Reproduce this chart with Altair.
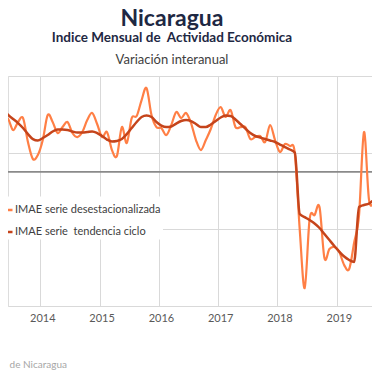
import altair as alt
import pandas as pd

# Monthly series, April 2013 .. October 2019 (year-on-year % variation)
start_month = "2013-04"
months = [str(p) for p in pd.period_range(start_month, periods=79, freq="M")]

desestacionalizada = [
    9.58, 5.72, 5.51, 4.36, 5.20, 5.61, 3.11, 1.34, 1.75,          # 2013 Apr-Dec
    3.32, 5.93, 5.20, 4.05, 4.67, 5.20, 4.05, 3.63, 4.15, 5.41, 6.14, 4.99,   # 2014
    3.63, 4.15, 2.27, 1.65, 4.67, 3.01, 5.61, 5.82, 7.49, 8.74, 5.93, 4.67,   # 2015
    4.57, 3.84, 4.88, 6.24, 5.61, 6.14, 5.09, 3.32, 2.27, 3.32, 4.47, 5.93,   # 2016
    6.76, 5.72, 6.45, 4.67, 4.67, 4.67, 3.42, 3.63, 3.74, 3.11, 4.88, 3.32,   # 2017
    2.07, 2.90, 2.69, 1.96, -6.03, -12.14, -4.93, -4.51, -3.67, -9.00, -8.06, -7.85,  # 2018
    -8.37, -9.73, -10.14, -7.43, -4.51, 4.15, -2.84, -3.26, -2.74, 0.71,      # 2019
]

tendencia = [
    6.97, 6.45, 5.93, 5.51, 5.09, 4.57, 3.94, 3.42, 3.27,
    3.53, 3.84, 4.21, 4.41, 4.41, 4.36, 4.21, 4.10, 4.10, 4.15, 4.21, 4.05,
    3.74, 3.37, 3.16, 3.21, 3.42, 3.94, 4.57, 5.20, 5.72, 5.87, 5.72, 5.20,
    4.83, 4.67, 4.73, 5.04, 5.30, 5.41, 5.30, 4.99, 4.67, 4.67, 4.94, 5.30,
    5.67, 5.87, 5.82, 5.46, 4.99, 4.52, 4.05, 3.74, 3.58, 3.42, 3.27, 3.11,
    2.85, 2.59, 2.33, 2.01, -4.40, -4.72, -5.03, -5.39, -5.86, -6.49, -7.12, -7.74,
    -8.32, -8.84, -9.20, -9.41, -3.67, -3.46, -3.31, -2.94, -2.53, -2.11,
]

year_ticks = [2014, 2015, 2016, 2017, 2018, 2019]
serie_names = ["IMAE serie desestacionalizada", "IMAE serie \u00a0tendencia ciclo"]
serie_colors = ["#FF7F45", "#C5441B"]

title_main = "Nicaragua"
title_sub = "Indice Mensual de \u00a0Actividad Económica"
title_sub2 = "Variación interanual"
source_text = "Fuente: Banco Central de Nicaragua"


def decimal_year(m):
    y, mo = m.split("-")
    return int(y) + (int(mo) - 0.5) / 12.0


df = pd.DataFrame({
    "mes": months,
    "t": [decimal_year(m) for m in months],
    "des": desestacionalizada,
    "ten": tendencia,
})
d1 = pd.DataFrame({"t": df["t"], "v": df["des"], "serie": serie_names[0]})
d2 = pd.DataFrame({"t": df["t"], "v": df["ten"], "serie": serie_names[1]})

FONT = "Lato"
GRID = "#d9d9d9"

x_enc = alt.X(
    "t:Q",
    scale=alt.Scale(domain=[2013.4553, 2019.5936], nice=False, zero=False),
    axis=alt.Axis(values=year_ticks, format="d", title=None, ticks=False, tickSize=0,
                  domain=False, labelFontSize=11, labelColor="#595959", labelFont=FONT,
                  labelPadding=6, labelOffset=2, gridColor=GRID, gridWidth=1),
)
y_enc = alt.Y(
    "v:Q",
    scale=alt.Scale(domain=[-14, 10], nice=False, zero=False),
    axis=alt.Axis(values=list(range(-14, 11, 2)), labels=False, ticks=False, domain=False,
                  title=None, gridColor=GRID, gridWidth=1),
)
color_enc = alt.Color(
    "serie:N",
    scale=alt.Scale(domain=serie_names, range=serie_colors),
    legend=alt.Legend(title=None, orient="none", legendX=-19, legendY=120.5,
                      fillColor="white", padding=2, symbolType="stroke",
                      symbolSize=400, symbolStrokeWidth=2.5, labelFontSize=11,
                      labelFont=FONT, labelColor="#404040", rowPadding=5,
                      labelOffset=1, labelLimit=400),
)

zero = alt.Chart(pd.DataFrame({"v": [0]})).mark_rule(color="#8a8a8a", strokeWidth=1.6).encode(
    y=alt.Y("v:Q", scale=alt.Scale(domain=[-14, 10], nice=False))
)

line1 = alt.Chart(d1).mark_line(interpolate="cardinal", strokeWidth=2.2, clip=True).encode(
    x=x_enc, y=y_enc, color=color_enc
)
line2 = alt.Chart(d2).mark_line(interpolate="monotone", strokeWidth=2.5, clip=True).encode(
    x=x_enc, y=y_enc, color=color_enc
)

t1 = alt.Chart(pd.DataFrame({"s": [title_main]})).mark_text(
    font=FONT, fontSize=23, fontWeight="bold", color="#1E2843", align="center", baseline="alphabetic"
).encode(text="s:N", x=alt.value(164), y=alt.value(-50))
t2 = alt.Chart(pd.DataFrame({"s": [title_sub]})).mark_text(
    font=FONT, fontSize=13.5, fontWeight="bold", color="#1E2843", align="center", baseline="middle"
).encode(text="s:N", x=alt.value(164), y=alt.value(-38))
t3 = alt.Chart(pd.DataFrame({"s": [title_sub2]})).mark_text(
    font=FONT, fontSize=13, color="#404040", align="center", baseline="middle"
).encode(text="s:N", x=alt.value(164), y=alt.value(-16))
src = alt.Chart(pd.DataFrame({"s": [source_text]})).mark_text(
    font=FONT, fontSize=10, color="#a6a6a6", align="right", baseline="middle"
).encode(text="s:N", x=alt.value(59), y=alt.value(289))

chart = alt.layer(zero, line1, line2, t1, t2, t3, src).properties(
    width=364, height=230,
    autosize=alt.AutoSizeParams(type="none"),
    padding={"left": 0, "top": 68, "right": 0, "bottom": 66},
).configure_view(stroke=None).configure(background="white")

chart.save("out.html", embed_options={"renderer": "svg", "actions": False})
